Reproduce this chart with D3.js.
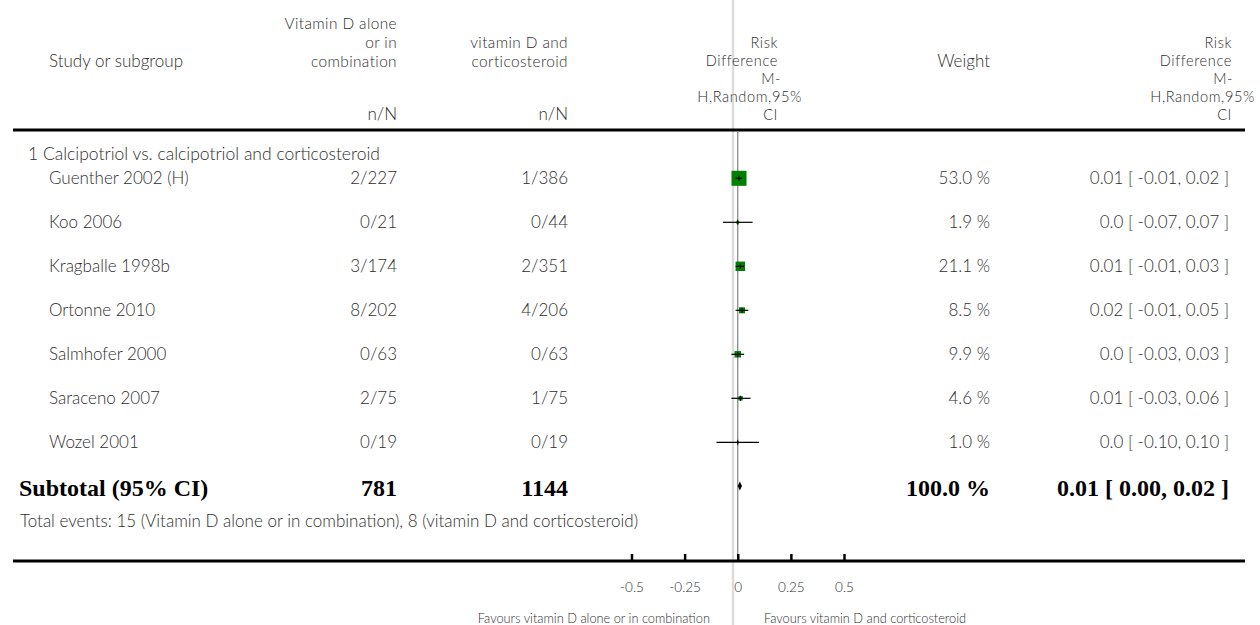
<!DOCTYPE html>
<html>
<head>
<meta charset="utf-8">
<script src="https://cdn.jsdelivr.net/npm/d3@7"></script>
<style>
  html, body { margin: 0; padding: 0; background: #fff; }
  svg { display: block; }
  text { font-family: Lato, "Open Sans", sans-serif; font-weight: 300; fill: #2e2e2e; }
  .bold { font-family: "Liberation Serif", "Times New Roman", serif; font-weight: bold; fill: #000; }
</style>
</head>
<body>
<svg id="chart" width="1260" height="625"></svg>
<script>
// ---------------- data ----------------
const sectionTitle = "1 Calcipotriol vs. calcipotriol and corticosteroid";
const studies = ["Guenther 2002 (H)", "Koo 2006", "Kragballe 1998b", "Ortonne 2010", "Salmhofer 2000", "Saraceno 2007", "Wozel 2001"];
const eventsA = [2, 0, 3, 8, 0, 2, 0];
const totalA  = [227, 21, 174, 202, 63, 75, 19];
const eventsB = [1, 0, 2, 4, 0, 1, 0];
const totalB  = [386, 44, 351, 206, 63, 75, 19];
const weights = [53.0, 1.9, 21.1, 8.5, 9.9, 4.6, 1.0];
const rdEst   = [0.006, 0.0, 0.012, 0.020, 0.0, 0.013, 0.0];
const rdLow   = [-0.01, -0.07, -0.01, -0.01, -0.03, -0.03, -0.10];
const rdHigh  = [0.02, 0.07, 0.03, 0.05, 0.03, 0.06, 0.10];
const rdLabels = ["0.01 [ -0.01, 0.02 ]", "0.0 [ -0.07, 0.07 ]", "0.01 [ -0.01, 0.03 ]", "0.02 [ -0.01, 0.05 ]", "0.0 [ -0.03, 0.03 ]", "0.01 [ -0.03, 0.06 ]", "0.0 [ -0.10, 0.10 ]"];
const subtotalLabel = "Subtotal (95% CI)";
const subtotalA = 781, subtotalB = 1144;
const subtotalWeight = "100.0 %";
const subtotalEst = 0.01, subtotalLow = 0.00, subtotalHigh = 0.02;
const subtotalText = "0.01 [ 0.00, 0.02 ]";
const totalEventsText = "Total events: 15 (Vitamin D alone or in combination), 8 (vitamin D and corticosteroid)";
const tickValues = [-0.5, -0.25, 0, 0.25, 0.5];
const tickLabels = ["-0.5", "-0.25", "0", "0.25", "0.5"];
const favoursLeft = "Favours vitamin D alone or in combination";
const favoursRight = "Favours vitamin D and corticosteroid";

// ---------------- layout ----------------
const FS = "17px";
const HS = "14.6px";
const svg = d3.select("#chart");
const x = d3.scaleLinear().domain([-0.5, 0.5]).range([631.5, 844]);
const rowY = d3.scalePoint().domain(studies).range([178.3, 442.3]);
const boxSize = d3.scaleSqrt().domain([0, 53]).range([0, 15]);
const colA = 397, colB = 568, colW = 990, colRD = 1229, colName = 49;

// background light grey divider line
svg.append("line").attr("x1", 733).attr("x2", 733).attr("y1", 0).attr("y2", 625)
  .attr("stroke", "#dcdcdc").attr("stroke-width", 2.4);

// headers (one text element per line)
function header(lines, xx, baseY, anchor, lh, fs, ls) {
  lines.forEach((l, i) => {
    svg.append("text").attr("text-anchor", anchor).style("font-size", fs)
      .style("letter-spacing", ls || "0px")
      .attr("x", Array.isArray(xx) ? xx[i] : xx).attr("y", baseY + i * lh).text(l);
  });
}
header(["Study or subgroup"], colName, 67, "start", 18.5, FS);
header(["Vitamin D alone", "or in", "combination"], colA, 28.5, "end", 19, "15.4px", "0.4px");
header(["n/N"], colA, 120, "end", 18.5, FS);
header(["vitamin D and", "corticosteroid"], colB, 48.3, "end", 18.4, "15.4px", "0.4px");
header(["n/N"], colB, 120, "end", 18.5, FS);
header(["Risk", "Difference", "M-", "H,Random,95%", "CI"], [778, 778, 781, 802, 778], 48.3, "end", 17.9, HS, "0.6px");
header(["Weight"], colW, 67, "end", 18.5, FS);
header(["Risk", "Difference", "M-", "H,Random,95%", "CI"], [1232, 1232, 1233, 1255, 1232], 48.3, "end", 17.9, HS, "0.6px");

// header rule
svg.append("line").attr("x1", 13).attr("x2", 1245).attr("y1", 130).attr("y2", 130)
  .attr("stroke", "#000").attr("stroke-width", 3.2);

// zero line
svg.append("line").attr("x1", x(0)).attr("x2", x(0)).attr("y1", 131).attr("y2", 560)
  .attr("stroke", "#8a8a8a").attr("stroke-width", 1.3);

// section title
svg.append("text").attr("x", 28).attr("y", 160).style("font-size", "17.5px").text(sectionTitle);

// study rows
const rows = svg.append("g").selectAll("g").data(studies).join("g");
const ty = d => rowY(d) + 6;
rows.append("text").attr("x", colName).attr("y", ty).style("font-size", FS).text(d => d);
rows.append("text").attr("x", colA).attr("y", ty).attr("text-anchor", "end").style("font-size", FS)
  .text((d, i) => eventsA[i] + "/" + totalA[i]);
rows.append("text").attr("x", colB).attr("y", ty).attr("text-anchor", "end").style("font-size", FS)
  .text((d, i) => eventsB[i] + "/" + totalB[i]);
rows.append("text").attr("x", colW).attr("y", ty).attr("text-anchor", "end").style("font-size", FS)
  .text((d, i) => weights[i].toFixed(1) + " %");
rows.append("text").attr("x", colRD).attr("y", ty).attr("text-anchor", "end").style("font-size", FS)
  .text((d, i) => rdLabels[i]);
// boxes
rows.append("rect")
  .attr("x", (d, i) => x(rdEst[i]) - boxSize(weights[i]) / 2)
  .attr("y", (d, i) => rowY(d) - boxSize(weights[i]) / 2)
  .attr("width", (d, i) => boxSize(weights[i]))
  .attr("height", (d, i) => boxSize(weights[i]))
  .attr("fill", "#008000");
// whiskers
rows.append("line")
  .attr("x1", (d, i) => x(rdLow[i])).attr("x2", (d, i) => x(rdHigh[i]))
  .attr("y1", d => rowY(d)).attr("y2", d => rowY(d))
  .attr("stroke", "#000").attr("stroke-width", 1.2);
// point tick
rows.append("line")
  .attr("x1", (d, i) => x(rdEst[i])).attr("x2", (d, i) => x(rdEst[i]))
  .attr("y1", d => rowY(d) - 2.5).attr("y2", d => rowY(d) + 2.5)
  .attr("stroke", "#000").attr("stroke-width", 1);

// subtotal row
const subY = 486;
const BS = "24px";
const subBase = 496;
svg.append("text").attr("class", "bold").attr("x", 19).attr("y", subBase).style("font-size", BS).text(subtotalLabel);
svg.append("text").attr("class", "bold").attr("x", colA).attr("y", subBase).attr("text-anchor", "end").style("font-size", BS).text(subtotalA);
svg.append("text").attr("class", "bold").attr("x", colB).attr("y", subBase).attr("text-anchor", "end").style("font-size", BS).text(subtotalB);
svg.append("text").attr("class", "bold").attr("x", colW).attr("y", subBase).attr("text-anchor", "end").style("font-size", BS).text(subtotalWeight);
svg.append("text").attr("class", "bold").attr("x", colRD).attr("y", subBase).attr("text-anchor", "end").style("font-size", BS).text(subtotalText);
svg.append("path")
  .attr("d", `M${x(subtotalLow)},${subY} L${x(subtotalEst)},${subY - 4.5} L${x(subtotalHigh)},${subY} L${x(subtotalEst)},${subY + 4.5} Z`)
  .attr("fill", "#000");

svg.append("text").attr("x", 20).attr("y", 527).style("font-size", FS).text(totalEventsText);

// axis
svg.append("line").attr("x1", 13).attr("x2", 1245).attr("y1", 561).attr("y2", 561)
  .attr("stroke", "#000").attr("stroke-width", 3.2);
const axis = d3.axisBottom(x).tickValues(tickValues).tickFormat((d, i) => tickLabels[i])
  .tickSize(-7).tickPadding(21);
const ag = svg.append("g").attr("transform", "translate(0,561)").call(axis);
ag.select(".domain").remove();
ag.selectAll(".tick line").attr("stroke", "#000").attr("stroke-width", 2.5);
ag.selectAll(".tick text").style("font-family", "Lato, sans-serif").style("font-weight", "300")
  .style("font-size", "13.5px").attr("fill", "#2e2e2e");

svg.append("text").attr("x", 710).attr("y", 623).attr("text-anchor", "end").style("font-size", "12.8px").text(favoursLeft);
svg.append("text").attr("x", 764).attr("y", 623).attr("text-anchor", "start").style("font-size", "12.8px").text(favoursRight);
</script>
</body>
</html>
